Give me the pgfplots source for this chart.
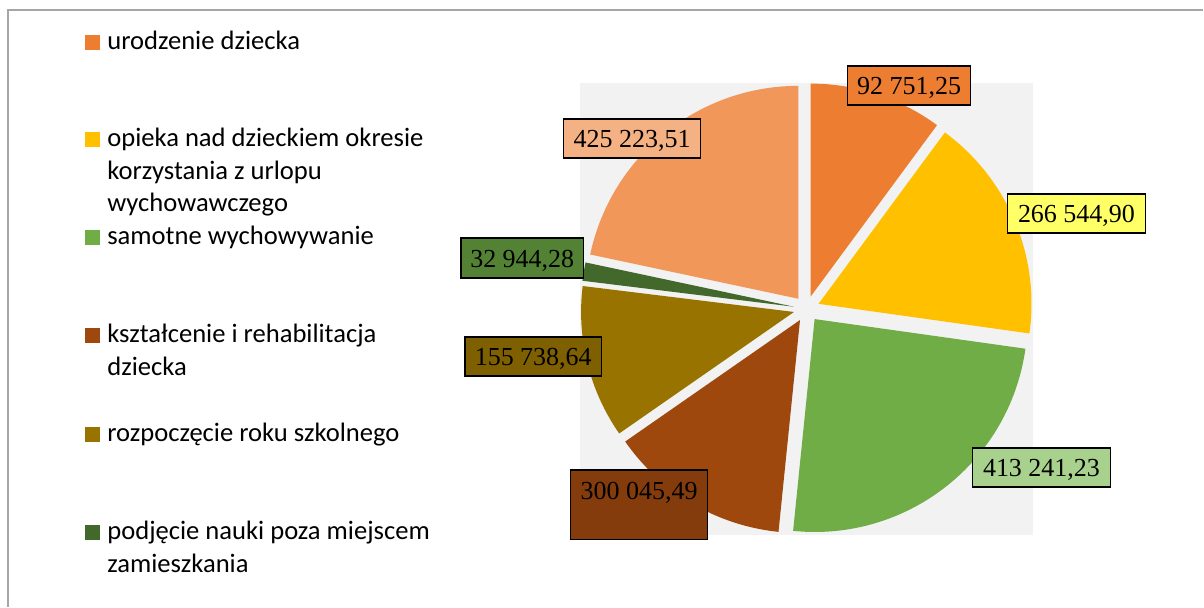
\documentclass[border=0pt]{standalone}
\usepackage{pgfplots}
\pgfplotsset{compat=1.18}
\usepackage{fontspec}
\setmainfont{Liberation Serif}
\newfontfamily\legfont{Carlito}

\definecolor{cA}{HTML}{ED7D31}
\definecolor{cB}{HTML}{FFC000}
\definecolor{cC}{HTML}{70AD47}
\definecolor{cD}{HTML}{9E480E}
\definecolor{cE}{HTML}{997300}
\definecolor{cF}{HTML}{43682B}
\definecolor{cG}{HTML}{F1975A}
\definecolor{lA}{HTML}{ED7D31}
\definecolor{lB}{HTML}{FFFF66}
\definecolor{lC}{HTML}{A9D18E}
\definecolor{lD}{HTML}{843C0C}
\definecolor{lE}{HTML}{7F6000}
\definecolor{lF}{HTML}{548235}
\definecolor{lG}{HTML}{F4B183}
\definecolor{bgpie}{HTML}{F2F2F2}
\definecolor{frame}{HTML}{A6A6A6}

% slice: from angle, to angle (degrees clockwise from 12 o'clock), colour
\newcommand\slice[3]{%
  \fill[#3] (axis cs:807,298) ++({90-(#1+#2)/2}:6.5pt) -- ++({90-#1}:106.5pt)
    arc[start angle={90-#1}, end angle={90-#2}, radius=106.5pt] -- cycle;}
% data label: x1, x2 (left,right), ytop, ybottom (pixels from top), fill, text, baseline
\newcommand\dlabel[7]{%
  \draw[fill=#5, line width=0.75pt] (axis cs:#1,{607-#3}) rectangle (axis cs:#2,{607-#4});
  \node[anchor=base, inner sep=0pt, font=\fontsize{13pt}{15pt}\selectfont]
    at (axis cs:{(#1+#2)/2},{607-#7}) {#6};}
% legend line
\newcommand\legline[2]{%
  \node[anchor=base west, inner sep=0pt, font=\legfont\fontsize{13.3pt}{15pt}\selectfont]
    at (axis cs:107,{607-#1}) {#2};}
\newcommand\legsq[2]{%
  \fill[#2] (axis cs:85,{607-#1+15}) rectangle (axis cs:100,{607-#1});}

\begin{document}
\begin{tikzpicture}
\begin{axis}[
  width=602pt, height=303.5pt, scale only axis,
  xmin=0, xmax=1204, ymin=0, ymax=607,
  hide axis, clip=false]
\path (axis cs:0,0) rectangle (axis cs:1204,607);
\draw[frame, line width=0.6pt] (axis cs:8,0) -- (axis cs:8,597) -- (axis cs:1204,597);
% plot area
\fill[bgpie] (axis cs:580,{607-83}) rectangle (axis cs:1034,{607-535});
% slices (angles)
\slice{0}{36.4}{cA}
\slice{36.4}{98}{cB}
\slice{98}{185.8}{cC}
\slice{185.8}{235.2}{cD}
\slice{235.2}{277}{cE}
\slice{277}{282}{cF}
\slice{282}{360}{cG}
% data labels
\dlabel{848}{971}{66}{105}{lA}{92 751,25}{95}
\dlabel{1008}{1146}{194}{233}{lB}{266 544,90}{223}
\dlabel{973}{1111}{448}{487}{lC}{413 241,23}{477}
\dlabel{571}{708}{470}{540}{lD}{300 045,49}{500}
\dlabel{465}{602}{337}{376}{lE}{155 738,64}{366}
\dlabel{461}{584}{238}{278}{lF}{32 944,28}{268}
\dlabel{564}{701}{119}{158}{lG}{425 223,51}{148}
% legend
\legsq{50}{cA}\legline{50}{urodzenie dziecka}
\legsq{147}{cB}\legline{147}{opieka nad dzieckiem okresie}
\legline{180}{korzystania z urlopu}
\legline{212}{wychowawczego}
\legsq{245}{cC}\legline{245}{samotne wychowywanie}
\legsq{343}{cD}\legline{343}{kształcenie i rehabilitacja}
\legline{376}{dziecka}
\legsq{442}{cE}\legline{442}{rozpoczęcie roku szkolnego}
\legsq{540}{cF}\legline{540}{podjęcie nauki poza miejscem}
\legline{573}{zamieszkania}
\end{axis}
\end{tikzpicture}
\end{document}
